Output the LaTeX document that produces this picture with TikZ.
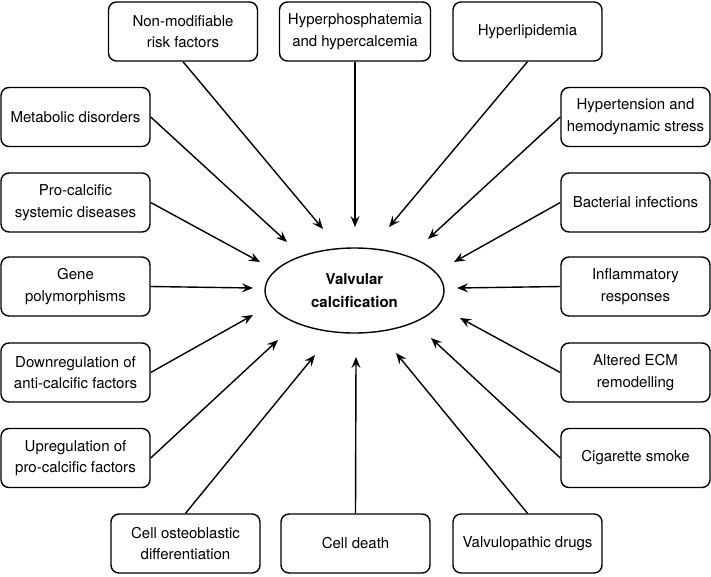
\documentclass[tikz,border=0pt]{standalone}
\usepackage{fontspec}
\setmainfont{TeX Gyre Heros}
\usetikzlibrary{arrows.meta,shapes.geometric}
\begin{document}
\begin{tikzpicture}[x=1pt,y=-1pt,
  box/.style={draw,line width=1.4pt,rounded corners=8pt,minimum width=149pt,minimum height=59pt,align=center,inner sep=0pt,font=\fontsize{15}{21.7}\selectfont},
  conn/.style={line width=1.4pt,-{Stealth[length=11pt,width=9pt,inset=4pt]}}]
\useasboundingbox (0,0) rectangle (711,576);
% top row
\node[box] (nonmod) at (183,31.5) {Non-modifiable\\risk factors};
\node[box,minimum width=151pt] (hphos) at (355,31.5) {Hyperphosphatemia\\and hypercalcemia};
\node[box] (hlip) at (527.5,31.5) {Hyperlipidemia};
% left column
\node[box] (metab) at (75.5,117) {Metabolic disorders};
\node[box] (procal) at (75.5,202.5) {Pro-calcific\\systemic diseases};
\node[box] (gene) at (75.5,286.5) {Gene\\polymorphisms};
\node[box] (down) at (75.5,372.5) {Downregulation of\\anti-calcific factors};
\node[box] (up) at (75.5,458) {Upregulation of\\pro-calcific factors};
% right column
\node[box] (htn) at (635.5,117) {Hypertension and\\hemodynamic stress};
\node[box] (bact) at (635.5,202.5) {Bacterial infections};
\node[box] (infl) at (635.5,286.5) {Inflammatory\\responses};
\node[box] (ecm) at (635.5,372.5) {Altered ECM\\remodelling};
\node[box] (cig) at (635.5,458) {Cigarette smoke};
% bottom row
\node[box] (osteo) at (185.5,543.5) {Cell osteoblastic\\differentiation};
\node[box] (death) at (355.5,543.5) {Cell death};
\node[box] (drugs) at (527.5,543.5) {Valvulopathic drugs};
% centre
\node[draw,ellipse,line width=1.4pt,minimum width=179pt,minimum height=85pt,inner sep=0pt,align=center,font=\fontsize{15}{22.5}\selectfont\bfseries] (vc) at (354.5,290.5) {Valvular\\calcification};
% arrow tips
\coordinate (tnonmod) at (323,229);
\coordinate (thphos) at (355,227);
\coordinate (thlip) at (389,227);
\coordinate (tmetab) at (287,242);
\coordinate (thtn) at (428,239);
\coordinate (tprocal) at (260,262);
\coordinate (tbact) at (454,262);
\coordinate (tgene) at (253,288);
\coordinate (tinfl) at (457,288);
\coordinate (tdown) at (253,315);
\coordinate (tecm) at (460,318);
\coordinate (tup) at (278,340);
\coordinate (tcig) at (431,338);
\coordinate (tosteo) at (315,355);
\coordinate (tdeath) at (356,357);
\coordinate (tdrugs) at (396,353);
% connectors
\draw[conn] (nonmod.south) -- (tnonmod);
\draw[conn] (hphos.south) -- (thphos);
\draw[conn] (hlip.south) -- (thlip);
\draw[conn] (metab.east) -- (tmetab);
\draw[conn] (htn.west) -- (thtn);
\draw[conn] (procal.east) -- (tprocal);
\draw[conn] (bact.west) -- (tbact);
\draw[conn] (gene.east) -- (tgene);
\draw[conn] (infl.west) -- (tinfl);
\draw[conn] (down.east) -- (tdown);
\draw[conn] (ecm.west) -- (tecm);
\draw[conn] (up.east) -- (tup);
\draw[conn] (cig.west) -- (tcig);
\draw[conn] (osteo.north) -- (tosteo);
\draw[conn] (death.north) -- (tdeath);
\draw[conn] (drugs.north) -- (tdrugs);
\end{tikzpicture}
\end{document}
